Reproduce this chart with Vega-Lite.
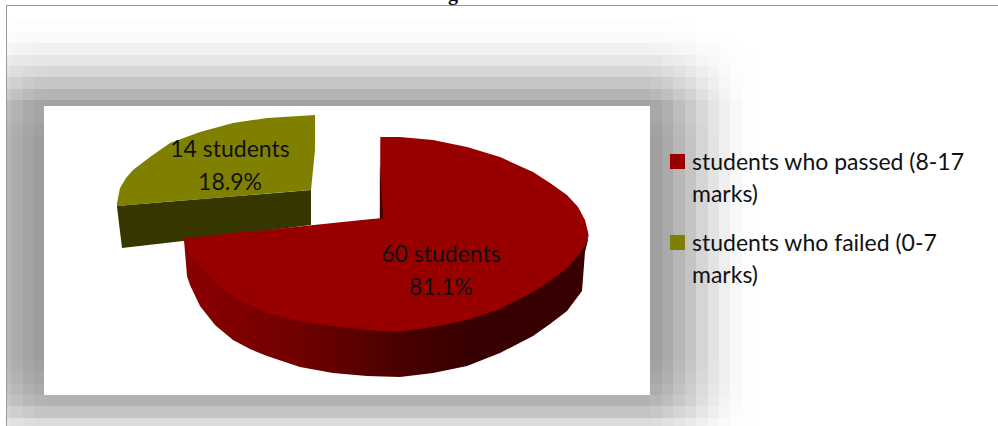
{
  "$schema": "https://vega.github.io/schema/vega-lite/v6.json",
  "width": 998,
  "height": 426,
  "padding": 0,
  "autosize": "none",
  "background": "#ffffff",
  "config": {"view": {"stroke": null}},
  "encoding": {
    "x": {"field": "x", "type": "quantitative", "axis": null, "scale": {"domain": [0, 998], "nice": false, "zero": false}},
    "y": {"field": "y", "type": "quantitative", "axis": null, "scale": {"domain": [426, 0], "nice": false, "zero": false}}
  },
  "layer": [
    {
      "description": "Tiled soft shadow behind the plot panel; d is how dark a tile is",
      "data": {"values": [
        {"x":7,"x2":11,"y":21,"y2":32,"d":1},{"x":11,"x2":23,"y":21,"y2":32,"d":2},{"x":23,"x2":34,"y":21,"y2":32,"d":2},{"x":34,"x2":46,"y":21,"y2":32,"d":2},{"x":46,"x2":650,"y":21,"y2":32,"d":2},{"x":650,"x2":662,"y":21,"y2":32,"d":2},{"x":662,"x2":673,"y":21,"y2":32,"d":2},{"x":673,"x2":685,"y":21,"y2":32,"d":1},{"x":685,"x2":696,"y":21,"y2":32,"d":1},
        {"x":7,"x2":11,"y":32,"y2":43,"d":4},{"x":11,"x2":23,"y":32,"y2":43,"d":4},{"x":23,"x2":34,"y":32,"y2":43,"d":5},{"x":34,"x2":46,"y":32,"y2":43,"d":5},{"x":46,"x2":650,"y":32,"y2":43,"d":5},{"x":650,"x2":662,"y":32,"y2":43,"d":5},{"x":662,"x2":673,"y":32,"y2":43,"d":4},{"x":673,"x2":685,"y":32,"y2":43,"d":4},{"x":685,"x2":696,"y":32,"y2":43,"d":3},{"x":696,"x2":708,"y":32,"y2":43,"d":2},{"x":708,"x2":719,"y":32,"y2":43,"d":1},{"x":719,"x2":730,"y":32,"y2":43,"d":1},
        {"x":7,"x2":11,"y":43,"y2":55,"d":9},{"x":11,"x2":23,"y":43,"y2":55,"d":11},{"x":23,"x2":34,"y":43,"y2":55,"d":12},{"x":34,"x2":46,"y":43,"y2":55,"d":13},{"x":46,"x2":650,"y":43,"y2":55,"d":13},{"x":650,"x2":662,"y":43,"y2":55,"d":12},{"x":662,"x2":673,"y":43,"y2":55,"d":11},{"x":673,"x2":685,"y":43,"y2":55,"d":9},{"x":685,"x2":696,"y":43,"y2":55,"d":8},{"x":696,"x2":708,"y":43,"y2":55,"d":5},{"x":708,"x2":719,"y":43,"y2":55,"d":4},{"x":719,"x2":730,"y":43,"y2":55,"d":2},{"x":730,"x2":742,"y":43,"y2":55,"d":1},
        {"x":7,"x2":11,"y":55,"y2":66,"d":18},{"x":11,"x2":23,"y":55,"y2":66,"d":21},{"x":23,"x2":34,"y":55,"y2":66,"d":23},{"x":34,"x2":46,"y":55,"y2":66,"d":25},{"x":46,"x2":650,"y":55,"y2":66,"d":25},{"x":650,"x2":662,"y":55,"y2":66,"d":24},{"x":662,"x2":673,"y":55,"y2":66,"d":21},{"x":673,"x2":685,"y":55,"y2":66,"d":18},{"x":685,"x2":696,"y":55,"y2":66,"d":15},{"x":696,"x2":708,"y":55,"y2":66,"d":10},{"x":708,"x2":719,"y":55,"y2":66,"d":7},{"x":719,"x2":730,"y":55,"y2":66,"d":4},{"x":730,"x2":742,"y":55,"y2":66,"d":2},{"x":742,"x2":753,"y":55,"y2":66,"d":1},
        {"x":7,"x2":11,"y":66,"y2":77,"d":28},{"x":11,"x2":23,"y":66,"y2":77,"d":32},{"x":23,"x2":34,"y":66,"y2":77,"d":36},{"x":34,"x2":46,"y":66,"y2":77,"d":38},{"x":46,"x2":650,"y":66,"y2":77,"d":39},{"x":650,"x2":662,"y":66,"y2":77,"d":37},{"x":662,"x2":673,"y":66,"y2":77,"d":33},{"x":673,"x2":685,"y":66,"y2":77,"d":28},{"x":685,"x2":696,"y":66,"y2":77,"d":23},{"x":696,"x2":708,"y":66,"y2":77,"d":16},{"x":708,"x2":719,"y":66,"y2":77,"d":11},{"x":719,"x2":730,"y":66,"y2":77,"d":6},{"x":730,"x2":742,"y":66,"y2":77,"d":2},{"x":742,"x2":753,"y":66,"y2":77,"d":1},
        {"x":7,"x2":11,"y":77,"y2":89,"d":40},{"x":11,"x2":23,"y":77,"y2":89,"d":46},{"x":23,"x2":34,"y":77,"y2":89,"d":52},{"x":34,"x2":46,"y":77,"y2":89,"d":55},{"x":46,"x2":650,"y":77,"y2":89,"d":56},{"x":650,"x2":662,"y":77,"y2":89,"d":53},{"x":662,"x2":673,"y":77,"y2":89,"d":48},{"x":673,"x2":685,"y":77,"y2":89,"d":40},{"x":685,"x2":696,"y":77,"y2":89,"d":32},{"x":696,"x2":708,"y":77,"y2":89,"d":23},{"x":708,"x2":719,"y":77,"y2":89,"d":15},{"x":719,"x2":730,"y":77,"y2":89,"d":8},{"x":730,"x2":742,"y":77,"y2":89,"d":3},{"x":742,"x2":753,"y":77,"y2":89,"d":1},
        {"x":7,"x2":11,"y":89,"y2":100,"d":53},{"x":11,"x2":23,"y":89,"y2":100,"d":61},{"x":23,"x2":34,"y":89,"y2":100,"d":68},{"x":34,"x2":46,"y":89,"y2":100,"d":73},{"x":46,"x2":650,"y":89,"y2":100,"d":74},{"x":650,"x2":662,"y":89,"y2":100,"d":70},{"x":662,"x2":673,"y":89,"y2":100,"d":63},{"x":673,"x2":685,"y":89,"y2":100,"d":53},{"x":685,"x2":696,"y":89,"y2":100,"d":43},{"x":696,"x2":708,"y":89,"y2":100,"d":30},{"x":708,"x2":719,"y":89,"y2":100,"d":20},{"x":719,"x2":730,"y":89,"y2":100,"d":11},{"x":730,"x2":742,"y":89,"y2":100,"d":4},{"x":742,"x2":753,"y":89,"y2":100,"d":1},
        {"x":7,"x2":11,"y":100,"y2":123,"d":66},{"x":11,"x2":23,"y":100,"y2":123,"d":75},{"x":23,"x2":34,"y":100,"y2":123,"d":85},{"x":34,"x2":46,"y":100,"y2":123,"d":90},{"x":46,"x2":650,"y":100,"y2":123,"d":92},{"x":650,"x2":662,"y":100,"y2":123,"d":87},{"x":662,"x2":673,"y":100,"y2":123,"d":78},{"x":673,"x2":685,"y":100,"y2":123,"d":65},{"x":685,"x2":696,"y":100,"y2":123,"d":53},{"x":696,"x2":708,"y":100,"y2":123,"d":38},{"x":708,"x2":719,"y":100,"y2":123,"d":25},{"x":719,"x2":730,"y":100,"y2":123,"d":14},{"x":730,"x2":742,"y":100,"y2":123,"d":6},{"x":742,"x2":753,"y":100,"y2":123,"d":2},
        {"x":7,"x2":11,"y":123,"y2":135,"d":70},{"x":11,"x2":23,"y":123,"y2":135,"d":80},{"x":23,"x2":34,"y":123,"y2":135,"d":89},{"x":34,"x2":46,"y":123,"y2":135,"d":95},{"x":650,"x2":662,"y":123,"y2":135,"d":92},{"x":662,"x2":673,"y":123,"y2":135,"d":82},{"x":673,"x2":685,"y":123,"y2":135,"d":69},{"x":685,"x2":696,"y":123,"y2":135,"d":56},{"x":696,"x2":708,"y":123,"y2":135,"d":40},{"x":708,"x2":719,"y":123,"y2":135,"d":26},{"x":719,"x2":730,"y":123,"y2":135,"d":15},{"x":730,"x2":742,"y":123,"y2":135,"d":6},{"x":742,"x2":753,"y":123,"y2":135,"d":2},
        {"x":7,"x2":11,"y":135,"y2":361,"d":72},{"x":11,"x2":23,"y":135,"y2":361,"d":82},{"x":23,"x2":34,"y":135,"y2":361,"d":92},{"x":34,"x2":46,"y":135,"y2":361,"d":98},{"x":650,"x2":662,"y":135,"y2":361,"d":95},{"x":662,"x2":673,"y":135,"y2":361,"d":85},{"x":673,"x2":685,"y":135,"y2":361,"d":71},{"x":685,"x2":696,"y":135,"y2":361,"d":58},{"x":696,"x2":708,"y":135,"y2":361,"d":41},{"x":708,"x2":719,"y":135,"y2":361,"d":27},{"x":719,"x2":730,"y":135,"y2":361,"d":15},{"x":730,"x2":742,"y":135,"y2":361,"d":6},{"x":742,"x2":753,"y":135,"y2":361,"d":2},
        {"x":7,"x2":11,"y":361,"y2":371,"d":70},{"x":11,"x2":23,"y":361,"y2":371,"d":80},{"x":23,"x2":34,"y":361,"y2":371,"d":89},{"x":34,"x2":46,"y":361,"y2":371,"d":95},{"x":650,"x2":662,"y":361,"y2":371,"d":92},{"x":662,"x2":673,"y":361,"y2":371,"d":82},{"x":673,"x2":685,"y":361,"y2":371,"d":69},{"x":685,"x2":696,"y":361,"y2":371,"d":56},{"x":696,"x2":708,"y":361,"y2":371,"d":40},{"x":708,"x2":719,"y":361,"y2":371,"d":26},{"x":719,"x2":730,"y":361,"y2":371,"d":15},{"x":730,"x2":742,"y":361,"y2":371,"d":6},{"x":742,"x2":753,"y":361,"y2":371,"d":2},
        {"x":7,"x2":11,"y":371,"y2":384,"d":66},{"x":11,"x2":23,"y":371,"y2":384,"d":75},{"x":23,"x2":34,"y":371,"y2":384,"d":85},{"x":34,"x2":46,"y":371,"y2":384,"d":90},{"x":650,"x2":662,"y":371,"y2":384,"d":87},{"x":662,"x2":673,"y":371,"y2":384,"d":78},{"x":673,"x2":685,"y":371,"y2":384,"d":65},{"x":685,"x2":696,"y":371,"y2":384,"d":53},{"x":696,"x2":708,"y":371,"y2":384,"d":38},{"x":708,"x2":719,"y":371,"y2":384,"d":25},{"x":719,"x2":730,"y":371,"y2":384,"d":14},{"x":730,"x2":742,"y":371,"y2":384,"d":6},{"x":742,"x2":753,"y":371,"y2":384,"d":2},
        {"x":7,"x2":11,"y":384,"y2":395,"d":61},{"x":11,"x2":23,"y":384,"y2":395,"d":70},{"x":23,"x2":34,"y":384,"y2":395,"d":78},{"x":34,"x2":46,"y":384,"y2":395,"d":83},{"x":650,"x2":662,"y":384,"y2":395,"d":81},{"x":662,"x2":673,"y":384,"y2":395,"d":72},{"x":673,"x2":685,"y":384,"y2":395,"d":60},{"x":685,"x2":696,"y":384,"y2":395,"d":49},{"x":696,"x2":708,"y":384,"y2":395,"d":35},{"x":708,"x2":719,"y":384,"y2":395,"d":23},{"x":719,"x2":730,"y":384,"y2":395,"d":13},{"x":730,"x2":742,"y":384,"y2":395,"d":5},{"x":742,"x2":753,"y":384,"y2":395,"d":2},
        {"x":7,"x2":11,"y":395,"y2":406,"d":55},{"x":11,"x2":23,"y":395,"y2":406,"d":62},{"x":23,"x2":34,"y":395,"y2":406,"d":70},{"x":34,"x2":46,"y":395,"y2":406,"d":74},{"x":46,"x2":650,"y":395,"y2":406,"d":76},{"x":650,"x2":662,"y":395,"y2":406,"d":72},{"x":662,"x2":673,"y":395,"y2":406,"d":65},{"x":673,"x2":685,"y":395,"y2":406,"d":54},{"x":685,"x2":696,"y":395,"y2":406,"d":44},{"x":696,"x2":708,"y":395,"y2":406,"d":31},{"x":708,"x2":719,"y":395,"y2":406,"d":21},{"x":719,"x2":730,"y":395,"y2":406,"d":11},{"x":730,"x2":742,"y":395,"y2":406,"d":5},{"x":742,"x2":753,"y":395,"y2":406,"d":2},
        {"x":7,"x2":11,"y":406,"y2":418,"d":42},{"x":11,"x2":23,"y":406,"y2":418,"d":48},{"x":23,"x2":34,"y":406,"y2":418,"d":53},{"x":34,"x2":46,"y":406,"y2":418,"d":57},{"x":46,"x2":650,"y":406,"y2":418,"d":58},{"x":650,"x2":662,"y":406,"y2":418,"d":55},{"x":662,"x2":673,"y":406,"y2":418,"d":49},{"x":673,"x2":685,"y":406,"y2":418,"d":41},{"x":685,"x2":696,"y":406,"y2":418,"d":34},{"x":696,"x2":708,"y":406,"y2":418,"d":24},{"x":708,"x2":719,"y":406,"y2":418,"d":16},{"x":719,"x2":730,"y":406,"y2":418,"d":9},{"x":730,"x2":742,"y":406,"y2":418,"d":3},{"x":742,"x2":753,"y":406,"y2":418,"d":1},
        {"x":7,"x2":11,"y":418,"y2":426,"d":25},{"x":11,"x2":23,"y":418,"y2":426,"d":29},{"x":23,"x2":34,"y":418,"y2":426,"d":32},{"x":34,"x2":46,"y":418,"y2":426,"d":34},{"x":46,"x2":650,"y":418,"y2":426,"d":35},{"x":650,"x2":662,"y":418,"y2":426,"d":33},{"x":662,"x2":673,"y":418,"y2":426,"d":30},{"x":673,"x2":685,"y":418,"y2":426,"d":25},{"x":685,"x2":696,"y":418,"y2":426,"d":20},{"x":696,"x2":708,"y":418,"y2":426,"d":14},{"x":708,"x2":719,"y":418,"y2":426,"d":9},{"x":719,"x2":730,"y":418,"y2":426,"d":5},{"x":730,"x2":742,"y":418,"y2":426,"d":2},{"x":742,"x2":753,"y":418,"y2":426,"d":1}
      ]},
      "mark": {"type": "rect", "strokeWidth": 0},
      "encoding": {
        "x2": {"field": "x2"},
        "y2": {"field": "y2"},
        "color": {"field": "d", "type": "quantitative", "legend": null, "scale": {"domain": [0, 100], "range": ["#ffffff", "#9b9b9b"]}}
      }
    },
    {
      "description": "White plot panel",
      "data": {"values": [{"x": 44, "x2": 650, "y": 106, "y2": 395}]},
      "mark": {"type": "rect", "fill": "#ffffff", "strokeWidth": 0},
      "encoding": {"x2": {"field": "x2"}, "y2": {"field": "y2"}}
    },
    {
      "description": "Outer frame, top and left edges",
      "data": {"values": [{"x": 6, "x2": 998, "y": 5.5, "y2": 5.5}, {"x": 6.5, "x2": 6.5, "y": 5, "y2": 426}]},
      "mark": {"type": "rule", "color": "#9a9a9a", "strokeWidth": 1},
      "encoding": {"x2": {"field": "x2"}, "y2": {"field": "y2"}}
    },
    {
      "description": "Failed slice, cut face",
      "data": {"values": [
        {"x": 117, "y": 205, "y2": 207},
        {"x": 122, "y": 205.6, "y2": 248},
        {"x": 183, "y": 200.5, "y2": 241},
        {"x": 311, "y": 190, "y2": 225}
      ]},
      "mark": {"type": "area", "color": "#363600"},
      "encoding": {"y2": {"field": "y2"}}
    },
    {
      "description": "Failed slice, top face",
      "data": {"values": [
        {"x": 117, "y": 203, "y2": 206},
        {"x": 120, "y": 188, "y2": 205.8},
        {"x": 126, "y": 178, "y2": 205.3},
        {"x": 133, "y": 170, "y2": 204.7},
        {"x": 150, "y": 157, "y2": 203.3},
        {"x": 170, "y": 143, "y2": 201.6},
        {"x": 200, "y": 132, "y2": 199.2},
        {"x": 233, "y": 123, "y2": 196.4},
        {"x": 267, "y": 118, "y2": 193.6},
        {"x": 311, "y": 115.3, "y2": 190},
        {"x": 315, "y": 115, "y2": 150}
      ]},
      "mark": {"type": "area", "color": "#808000"},
      "encoding": {"y2": {"field": "y2"}}
    },
    {
      "description": "Passed slice, rim with its shading",
      "data": {"values": [
        {"x": 184, "y": 238, "y2": 240},
        {"x": 187, "y": 248, "y2": 276},
        {"x": 190, "y": 254, "y2": 285},
        {"x": 200, "y": 264, "y2": 306},
        {"x": 215, "y": 280, "y2": 325},
        {"x": 233, "y": 294, "y2": 340},
        {"x": 250, "y": 304, "y2": 349},
        {"x": 267, "y": 311, "y2": 356},
        {"x": 300, "y": 319, "y2": 367},
        {"x": 333, "y": 324, "y2": 373},
        {"x": 367, "y": 328, "y2": 376},
        {"x": 400, "y": 329, "y2": 377},
        {"x": 433, "y": 325, "y2": 373},
        {"x": 467, "y": 318, "y2": 366},
        {"x": 500, "y": 307, "y2": 353},
        {"x": 533, "y": 290, "y2": 336},
        {"x": 550, "y": 279, "y2": 324},
        {"x": 567, "y": 266, "y2": 311},
        {"x": 582, "y": 248, "y2": 291},
        {"x": 585, "y": 244, "y2": 252},
        {"x": 588, "y": 238, "y2": 240}
      ]},
      "mark": {
        "type": "area",
        "color": {
          "gradient": "linear", "x1": 0, "x2": 1, "y1": 0, "y2": 0,
          "stops": [
            {"offset": 0, "color": "#8a0000"},
            {"offset": 0.29, "color": "#700000"},
            {"offset": 0.53, "color": "#4a0000"},
            {"offset": 0.7, "color": "#380000"},
            {"offset": 1, "color": "#380000"}
          ]
        }
      },
      "encoding": {"y2": {"field": "y2"}}
    },
    {
      "description": "Passed slice, top face",
      "data": {"values": [
        {"x": 184, "y": 238.5, "y2": 239},
        {"x": 185, "y": 238.3, "y2": 244},
        {"x": 188, "y": 238, "y2": 252},
        {"x": 193, "y": 237.5, "y2": 259},
        {"x": 200, "y": 236.7, "y2": 266},
        {"x": 215, "y": 235, "y2": 282},
        {"x": 233, "y": 233, "y2": 296},
        {"x": 250, "y": 231.5, "y2": 306},
        {"x": 267, "y": 230, "y2": 313},
        {"x": 300, "y": 226.5, "y2": 321},
        {"x": 333, "y": 223, "y2": 326},
        {"x": 367, "y": 219.5, "y2": 330},
        {"x": 380, "y": 218.3, "y2": 331},
        {"x": 380.3, "y": 137, "y2": 331},
        {"x": 400, "y": 137, "y2": 331.5},
        {"x": 433, "y": 140, "y2": 327},
        {"x": 467, "y": 147, "y2": 320},
        {"x": 500, "y": 157, "y2": 309},
        {"x": 533, "y": 172, "y2": 292},
        {"x": 550, "y": 183, "y2": 281},
        {"x": 567, "y": 195, "y2": 268},
        {"x": 578, "y": 207, "y2": 256},
        {"x": 585, "y": 220, "y2": 246},
        {"x": 588, "y": 232, "y2": 238},
        {"x": 588.5, "y": 235, "y2": 236}
      ]},
      "mark": {"type": "area", "color": "#980000"},
      "encoding": {"y2": {"field": "y2"}}
    },
    {
      "description": "Passed slice, thin inner wall at the notch",
      "data": {"values": [
        {"x": 379.8, "y": 165, "y2": 219},
        {"x": 383, "y": 212, "y2": 218}
      ]},
      "mark": {"type": "area", "color": "#4a0000"},
      "encoding": {"y2": {"field": "y2"}}
    },
    {
      "description": "Legend swatches",
      "data": {"values": [
        {"x": 670, "x2": 685, "y": 154, "y2": 169, "group": "students who passed (8-17 marks)"},
        {"x": 670, "x2": 685, "y": 235, "y2": 250, "group": "students who failed (0-7 marks)"}
      ]},
      "mark": {"type": "rect", "strokeWidth": 0},
      "encoding": {
        "x2": {"field": "x2"},
        "y2": {"field": "y2"},
        "fill": {"field": "group", "type": "nominal", "legend": null, "scale": {"domain": ["students who passed (8-17 marks)", "students who failed (0-7 marks)"], "range": ["#980000", "#808000"]}}
      }
    },
    {
      "description": "Legend text",
      "data": {"values": [
        {"x": 692, "y": 170, "label": "students who passed (8-17\nmarks)"},
        {"x": 692, "y": 251, "label": "students who failed (0-7\nmarks)"}
      ]},
      "mark": {"type": "text", "align": "left", "baseline": "alphabetic", "font": "Lato", "fontSize": 23, "lineBreak": "\n", "lineHeight": 32, "color": "#111111"},
      "encoding": {"text": {"field": "label"}}
    },
    {
      "description": "Slice labels: head count and share",
      "data": {"values": [
        {"x": 230, "y": 157, "students": 14, "percent": 18.9, "label": "14 students\n18.9%"},
        {"x": 441, "y": 262, "students": 60, "percent": 81.1, "label": "60 students\n81.1%"}
      ]},
      "mark": {"type": "text", "align": "center", "baseline": "alphabetic", "font": "Lato", "fontSize": 23, "lineBreak": "\n", "lineHeight": 33, "color": "#111111"},
      "encoding": {"text": {"field": "label"}}
    },
    {
      "description": "Figure caption, cut off by the top edge",
      "data": {"values": [{"x": 515, "y": 0, "label": "Figure 3: test scores"}]},
      "mark": {"type": "text", "align": "center", "baseline": "alphabetic", "font": "Liberation Serif", "fontWeight": "bold", "fontSize": 20, "color": "#111111"},
      "encoding": {"text": {"field": "label"}}
    }
  ]
}
